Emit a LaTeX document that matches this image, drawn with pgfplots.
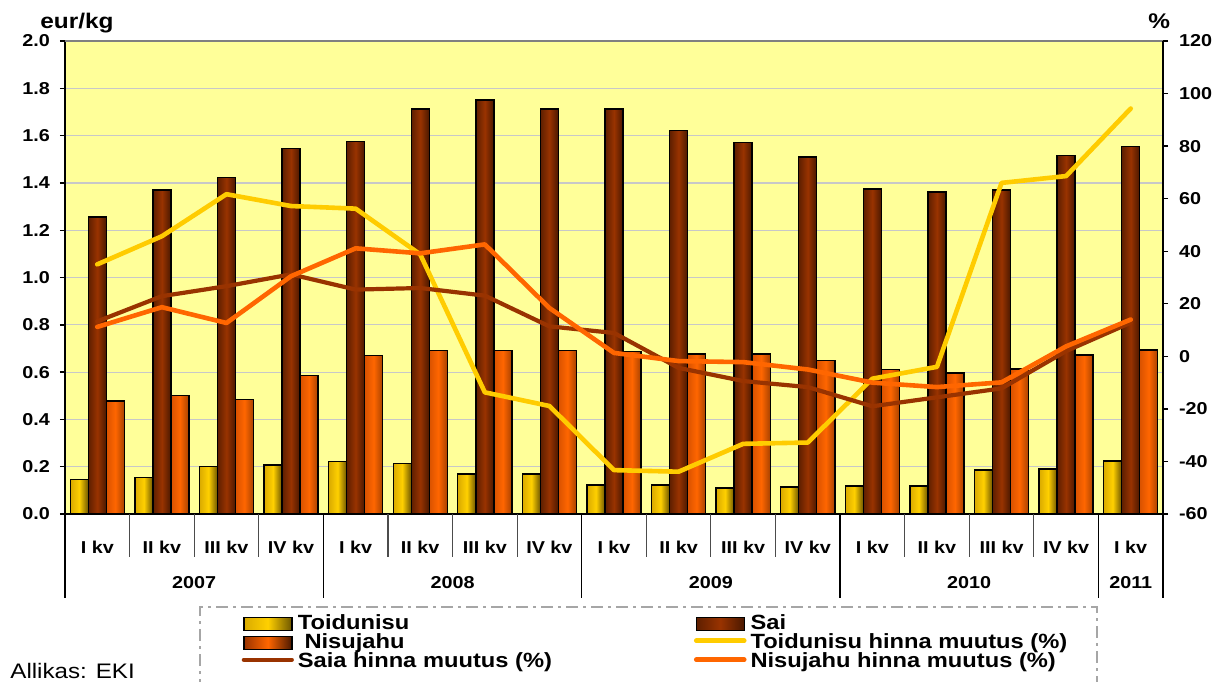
\documentclass[border=0pt]{standalone}
\usepackage{fontspec}
\setmainfont{Liberation Sans}[FakeStretch=1.15]
\usepackage{pgfplots}
\usepackage{pgfplotstable}
\pgfplotsset{compat=1.18}
\definecolor{bgc}{HTML}{FFFF99}
\definecolor{gridc}{HTML}{C8C8C8}
\definecolor{toidL}{HTML}{D9AA00}
\definecolor{toidM}{HTML}{FFD000}
\definecolor{toidR}{HTML}{6E5600}
\definecolor{saiL}{HTML}{5E1F00}
\definecolor{saiM}{HTML}{993300}
\definecolor{saiR}{HTML}{4A1800}
\definecolor{nisL}{HTML}{D95200}
\definecolor{nisM}{HTML}{FF6600}
\definecolor{nisR}{HTML}{A84200}
\definecolor{toidLine}{HTML}{FFCC00}
\definecolor{saiLine}{HTML}{993300}
\definecolor{nisLine}{HTML}{FF6600}
\newcommand{\tickfont}{\bfseries\fontsize{8.6}{10}\selectfont}
\newcommand{\legfont}{\bfseries\fontsize{10.3}{11}\selectfont}
\pgfplotstableread{
x toid sai nis
0 0.147 1.255 0.478
1 0.155 1.370 0.500
2 0.200 1.422 0.485
3 0.207 1.545 0.585
4 0.223 1.575 0.670
5 0.213 1.712 0.692
6 0.170 1.750 0.692
7 0.170 1.712 0.692
8 0.123 1.712 0.688
9 0.122 1.622 0.677
10 0.110 1.570 0.677
11 0.115 1.510 0.650
12 0.118 1.375 0.612
13 0.118 1.362 0.596
14 0.186 1.370 0.613
15 0.190 1.515 0.672
16 0.224 1.555 0.693
}\bars
\pgfplotstableread{
x toidch saich nisch
0 35 13.3 11.2
1 45.7 22.9 18.7
2 61.7 26.7 12.7
3 57.2 31.2 30.5
4 56.2 25.4 41.1
5 38.8 26 39.2
6 -13.7 23.1 42.6
7 -18.9 11.4 18.4
8 -43.3 8.9 1.3
9 -43.9 -4.4 -1.8
10 -33.3 -9.4 -2.2
11 -32.8 -11.7 -5
12 -8.5 -19 -10
13 -4 -15.6 -11.7
14 66 -12.2 -9.9
15 68.6 2 3.8
16 94.3 12.8 14
}\changes
\begin{document}
\begin{tikzpicture}
\useasboundingbox (0,0) rectangle (606.5pt,340.5pt);
% left axis with bars
\begin{axis}[
  at={(32.5pt,83.5pt)}, anchor=south west,
  scale only axis, width=549pt, height=236.5pt,
  xmin=-0.5, xmax=16.5, ymin=0, ymax=2,
  ytick distance=0.2,
  xtick={0,...,16},
  xticklabels={I kv,II kv,III kv,IV kv,I kv,II kv,III kv,IV kv,I kv,II kv,III kv,IV kv,I kv,II kv,III kv,IV kv,I kv},
  xtick style={draw=none},
  xticklabel style={anchor=center, yshift=-14pt, font=\tickfont},
  yticklabel style={font=\tickfont, xshift=-1.5pt, /pgf/number format/.cd, fixed, fixed zerofill, precision=1, assume math mode=true},
  axis x line*=bottom, axis y line*=left,
  axis line style={black, line width=0.8pt},
  ytick style={black, line width=0.7pt},
  tick align=outside, major tick length=2.5pt,
  ymajorgrids, grid style={draw=gridc, line width=0.6pt},
  axis background/.style={fill=bgc},
  clip=false,
]
\draw[gray, line width=0.7pt] (rel axis cs:0,1) -- (rel axis cs:1,1);
\pgfplotsinvokeforeach{0,...,16}{
\addplot[ybar, bar width=0.279, bar shift=-0.279, draw=black, line width=0.7pt,
  left color=toidL, right color=toidR, middle color=toidM,
  x filter/.expression={abs(x-#1)<0.1 ? x : nan}] table[x=x, y=toid] {\bars};
\addplot[ybar, bar width=0.279, bar shift=0, draw=black, line width=0.7pt,
  left color=saiL, right color=saiR, middle color=saiM,
  x filter/.expression={abs(x-#1)<0.1 ? x : nan}] table[x=x, y=sai] {\bars};
\addplot[ybar, bar width=0.279, bar shift=0.279, draw=black, line width=0.7pt,
  left color=nisL, right color=nisR, middle color=nisM,
  x filter/.expression={abs(x-#1)<0.1 ? x : nan}] table[x=x, y=nis] {\bars};
}
\pgfplotsinvokeforeach{-0.5,0.5,1.5,2.5,3.5,4.5,5.5,6.5,7.5,8.5,9.5,10.5,11.5,12.5,13.5,14.5,15.5,16.5}{
  \draw[black!70, line width=0.6pt] (axis cs:#1,0) -- ++(0pt,-21.5pt);
}
\pgfplotsinvokeforeach{-0.5,3.5,7.5,11.5,15.5,16.5}{
  \draw[black, line width=0.6pt] (axis cs:#1,0) -- ++(0pt,-42pt);
}
\node[font=\tickfont, yshift=-34.5pt] at (axis cs:1.5,0) {2007};
\node[font=\tickfont, yshift=-34.5pt] at (axis cs:5.5,0) {2008};
\node[font=\tickfont, yshift=-34.5pt] at (axis cs:9.5,0) {2009};
\node[font=\tickfont, yshift=-34.5pt] at (axis cs:13.5,0) {2010};
\node[font=\tickfont, yshift=-34.5pt] at (axis cs:16,0) {2011};
\end{axis}
% right axis with lines
\begin{axis}[
  at={(32.5pt,83.5pt)}, anchor=south west,
  scale only axis, width=549pt, height=236.5pt,
  xmin=-0.5, xmax=16.5, ymin=-60, ymax=120,
  ytick distance=20,
  axis y line*=right, axis x line=none,
  axis line style={black, line width=0.8pt},
  ytick style={black, line width=0.7pt},
  tick align=outside, major tick length=2.5pt,
  yticklabel style={font=\tickfont, xshift=2pt, /pgf/number format/assume math mode=true},
  clip=false,
  legend columns=2,
  legend cell align=left,
  legend image code/.code={\draw[#1] (0pt,1.3pt) -- (24pt,1.3pt);},
  legend style={at={(0.1606,-0.2102)}, anchor=north west, draw=none, fill=none,
    inner sep=0pt, row sep=-1pt, column sep=0pt,
    nodes={inner xsep=2pt, inner ysep=0.5pt, text height=7.3pt, text depth=2.2pt, font=\legfont}},
]
\addlegendimage{legend image code/.code={\draw[black, line width=0.7pt, left color=toidL, right color=toidR, middle color=toidM] (0pt,-3.05pt) rectangle (24pt,3.55pt);}}
\addlegendentry{\makebox[196pt][l]{Toidunisu}}
\addlegendimage{legend image code/.code={\draw[black, line width=0.7pt, left color=saiL, right color=saiR, middle color=saiM] (0pt,-3.05pt) rectangle (24pt,3.55pt);}}
\addlegendentry{ Sai}
\addlegendimage{legend image code/.code={\draw[black, line width=0.7pt, left color=saiM, right color=saiR, middle color=nisM] (0pt,-3.05pt) rectangle (24pt,3.55pt);}}
\addlegendentry{\makebox[196pt][l]{ Nisujahu}}
\addplot[toidLine, line width=2.3pt, line join=round, line cap=round] table[x=x, y=toidch] {\changes};
\addlegendentry{Toidunisu hinna muutus (\%)}
\addplot[saiLine, line width=2.1pt, line join=round, line cap=round] table[x=x, y=saich] {\changes};
\addlegendentry{\makebox[196pt][l]{Saia hinna muutus (\%)}}
\addplot[nisLine, line width=2.3pt, line join=round, line cap=round] table[x=x, y=nisch] {\changes};
\addlegendentry{Nisujahu hinna muutus (\%)}
\end{axis}
\node[font=\bfseries\fontsize{10.6}{12}\selectfont, anchor=base west, inner sep=0pt] at (20pt,326pt) {eur/kg};
\node[font=\bfseries\fontsize{10.6}{12}\selectfont, anchor=base west, inner sep=0pt] at (574pt,326pt) {\%};
\node[font=\fontsize{10.5}{12}\selectfont, anchor=base west, inner sep=0pt] at (5pt,1.5pt) {Allikas: EKI};
\draw[gray!70, line width=0.8pt, dash pattern=on 6pt off 2.5pt on 1.5pt off 2.5pt] (100pt,-5pt) -- (100pt,37pt) -- (548.5pt,37pt) -- (548.5pt,-5pt);
\end{tikzpicture}
\end{document}
